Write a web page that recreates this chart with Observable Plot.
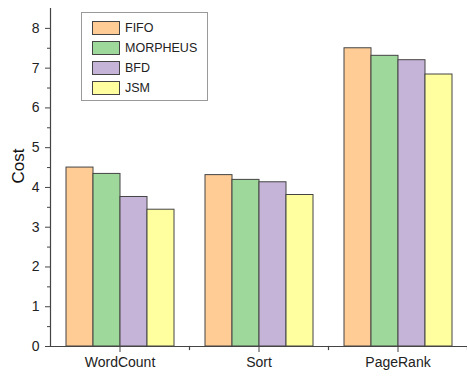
<!DOCTYPE html>
<html>
<head>
<meta charset="utf-8">
<script src="https://cdn.jsdelivr.net/npm/d3@7"></script>
<script src="https://cdn.jsdelivr.net/npm/@observablehq/plot@0.6"></script>
<style>
  html, body { margin: 0; padding: 0; background: #fff; }
  #wrap { position: relative; width: 467px; height: 376px; font-family: "Liberation Sans", Arial, sans-serif; }
  #legend { position: absolute; left: 81px; top: 12px; width: 127px; height: 89px; border: 1px solid #9a9a9a; box-sizing: border-box; background: #fff; }
  .row { position: absolute; left: 10px; height: 14px; display: flex; align-items: center; font-size: 12.5px; color: #222; }
  .sw { width: 26px; height: 12px; border: 1px solid #444; margin-right: 5px; }
</style>
</head>
<body>
<div id="wrap"></div>
<script>
const categories = ["WordCount", "Sort", "PageRank"];
const series = ["FIFO", "MORPHEUS", "BFD", "JSM"];
const fifo = [4.50, 4.31, 7.50];
const morpheus = [4.34, 4.19, 7.31];
const bfd = [3.76, 4.13, 7.20];
const jsm = [3.44, 3.81, 6.84];
const colors = ["#FFCC96", "#9ED89A", "#C6B4D8", "#FFFFA0"];
const yTicks = [0, 1, 2, 3, 4, 5, 6, 7, 8];
const yMinorTicks = [0.5, 1.5, 2.5, 3.5, 4.5, 5.5, 6.5, 7.5];

const valuesBySeries = [fifo, morpheus, bfd, jsm];
const rows = [];
categories.forEach((c, i) => {
  series.forEach((s, j) => rows.push({cat: c, series: s, value: valuesBySeries[j][i]}));
});

const chart = Plot.plot({
  width: 467,
  height: 376,
  marginLeft: 50,
  marginRight: 0,
  marginTop: 8,
  marginBottom: 30,
  style: {fontFamily: "'Liberation Sans', Arial, sans-serif", fontSize: "14px", color: "#222", background: "#fff"},
  fx: {domain: categories, padding: 0, label: null},
  x: {domain: series, paddingInner: 0, paddingOuter: 0.5, axis: null},
  y: {domain: [0, 8.5], label: null},
  color: {domain: series, range: colors},
  marks: [
    Plot.barY(rows, {fx: "cat", x: "series", y: "value", fill: "series", stroke: "#444", strokeWidth: 1, inset: 0}),
    Plot.ruleY([0], {stroke: "#444", strokeWidth: 1.2}),
    Plot.frame({anchor: "left", facetAnchor: "left", stroke: "#444", strokeWidth: 1.2}),
    Plot.frame({anchor: "right", insetTop: 338, insetBottom: -3, stroke: "#444", strokeWidth: 1.2}),
    Plot.axisY({ticks: yTicks, tickSize: 5, tickPadding: 6, tickFormat: d3.format("d"), label: null, fontSize: 14, stroke: "#444"}),
    Plot.axisY({ticks: yMinorTicks, tickSize: 3, tickFormat: null, text: null, label: null, stroke: "#444"}),
    Plot.axisFx({anchor: "bottom", tickSize: 6, tickPadding: 5, label: null, fontSize: 14, stroke: "#444"}),
    Plot.text(["Cost"], {frameAnchor: "left", dx: -32, rotate: -90, fontSize: 17, fill: "#111", facetAnchor: "left", dy: 6})
  ]
});

const wrap = document.getElementById("wrap");
wrap.appendChild(chart);

const legend = document.createElement("div");
legend.id = "legend";
series.forEach((s, j) => {
  const row = document.createElement("div");
  row.className = "row";
  row.style.top = (8 + j * 20) + "px";
  const sw = document.createElement("div");
  sw.className = "sw";
  sw.style.background = colors[j];
  const t = document.createElement("span");
  t.textContent = s;
  row.appendChild(sw);
  row.appendChild(t);
  legend.appendChild(row);
});
wrap.appendChild(legend);
</script>
</body>
</html>
